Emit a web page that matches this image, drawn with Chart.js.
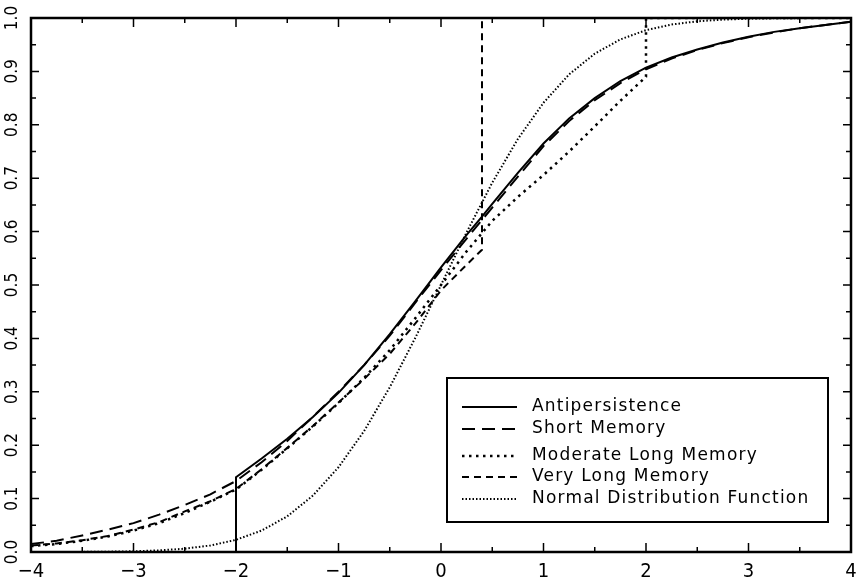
<!DOCTYPE html>
<html>
<head>
<meta charset="utf-8">
<script src="https://cdn.jsdelivr.net/npm/chart.js@4.4.0/dist/chart.umd.min.js"></script>
<style>
  html, body { margin: 0; padding: 0; background: #fff; }
  #wrap { width: 858px; height: 585px; }
</style>
</head>
<body>
<div id="wrap"><canvas id="myChart" width="858" height="585"></canvas></div>
<script>
// tick labels
const xTicks = [-4, -3, -2, -1, 0, 1, 2, 3, 4]
const yTicks = [0, 0.1, 0.2, 0.3, 0.4, 0.5, 0.6, 0.7, 0.8, 0.9, 1.0]

// Antipersistence (starts at -2 with a jump)
const antiX = [-2, -2, -1.75, -1.5, -1.25, -1, -0.75, -0.5, -0.25, 0, 0.25, 0.4, 0.5, 0.75, 1, 1.25, 1.5, 1.75, 2, 2.25, 2.5, 2.75, 3, 3.25, 3.5, 3.75, 4]
const antiY = [0, 0.14, 0.175, 0.212, 0.253, 0.298, 0.35, 0.408, 0.47, 0.533, 0.594, 0.628, 0.652, 0.71, 0.765, 0.812, 0.85, 0.882, 0.907, 0.926, 0.941, 0.954, 0.965, 0.974, 0.981, 0.987, 0.993]

// Short Memory
const shortX = [-4, -3.75, -3.5, -3.25, -3, -2.75, -2.5, -2.25, -2, -1.75, -1.5, -1.25, -1, -0.75, -0.5, -0.25, 0, 0.25, 0.5, 0.75, 1, 1.25, 1.5, 1.75, 2, 2.25, 2.5, 2.75, 3, 3.25, 3.5, 3.75, 4]
const shortY = [0.015, 0.021, 0.031, 0.042, 0.054, 0.07, 0.088, 0.108, 0.133, 0.168, 0.208, 0.253, 0.3, 0.35, 0.405, 0.467, 0.528, 0.587, 0.645, 0.703, 0.76, 0.807, 0.846, 0.878, 0.904, 0.924, 0.94, 0.953, 0.964, 0.973, 0.981, 0.987, 0.993]

// Moderate Long Memory (jumps to 1 at x = 2)
const modX = [-4, -3.75, -3.5, -3.25, -3, -2.75, -2.5, -2.25, -2, -1.75, -1.5, -1.25, -1, -0.75, -0.5, -0.25, 0, 0.25, 0.5, 0.75, 1, 1.25, 1.5, 1.75, 2, 2, 3, 4]
const modY = [0.011, 0.015, 0.021, 0.029, 0.04, 0.054, 0.073, 0.094, 0.117, 0.154, 0.194, 0.235, 0.279, 0.326, 0.378, 0.438, 0.5, 0.563, 0.62, 0.665, 0.706, 0.75, 0.797, 0.845, 0.89, 1.0, 1.0, 1.0]

// Very Long Memory (jumps to 1 at x = 0.4)
const vlongX = [-4, -3.75, -3.5, -3.25, -3, -2.75, -2.5, -2.25, -2, -1.75, -1.5, -1.25, -1, -0.75, -0.5, -0.25, 0, 0.25, 0.4, 0.4, 2, 4]
const vlongY = [0.012, 0.016, 0.022, 0.03, 0.042, 0.056, 0.076, 0.095, 0.118, 0.155, 0.195, 0.236, 0.28, 0.324, 0.371, 0.428, 0.49, 0.538, 0.566, 1.0, 1.0, 1.0]

// Normal Distribution Function
const normX = [-4, -3.75, -3.5, -3.25, -3, -2.75, -2.5, -2.25, -2, -1.75, -1.5, -1.25, -1, -0.75, -0.5, -0.25, 0, 0.25, 0.5, 0.75, 1, 1.25, 1.5, 1.75, 2, 2.25, 2.5, 2.75, 3, 3.25, 3.5, 3.75, 4]
const normY = [0.0, 0.0001, 0.0002, 0.0006, 0.0013, 0.003, 0.0062, 0.0122, 0.0228, 0.0401, 0.0668, 0.1056, 0.1587, 0.2266, 0.3085, 0.4013, 0.5, 0.5987, 0.6915, 0.7734, 0.8413, 0.8944, 0.9332, 0.9599, 0.9772, 0.9878, 0.9938, 0.997, 0.9987, 0.9994, 0.9998, 0.9999, 1.0]

const pts = (xs, ys) => xs.map((v, i) => ({ x: v, y: ys[i] }))

const series = [
  { label: 'Antipersistence', data: pts(antiX, antiY), dash: [], width: 2 },
  { label: 'Short Memory', data: pts(shortX, shortY), dash: [13, 7], width: 2 },
  { label: 'Moderate Long Memory', data: pts(modX, modY), dash: [2.5, 4.5], width: 2.5 },
  { label: 'Very Long Memory', data: pts(vlongX, vlongY), dash: [7, 5], width: 2 },
  { label: 'Normal Distribution Function', data: pts(normX, normY), dash: [1.5, 2], width: 2 }
]

const frame = {
  id: 'frame',
  afterDraw(chart) {
    const { ctx, chartArea: a, scales: { x, y } } = chart
    ctx.save()
    ctx.strokeStyle = '#000'
    ctx.fillStyle = '#000'

    // ticks pointing inward on all sides
    ctx.lineWidth = 1.5
    for (let i = -8; i <= 8; i++) {
      const px = x.getPixelForValue(i / 2)
      const len = i % 2 === 0 ? 9 : 5
      ctx.beginPath()
      ctx.moveTo(px, a.bottom); ctx.lineTo(px, a.bottom - len)
      ctx.moveTo(px, a.top); ctx.lineTo(px, a.top + len)
      ctx.stroke()
    }
    for (let i = 0; i <= 20; i++) {
      const py = y.getPixelForValue(i / 20)
      const len = i % 2 === 0 ? 8 : 5
      ctx.beginPath()
      ctx.moveTo(a.left, py); ctx.lineTo(a.left + len, py)
      ctx.moveTo(a.right, py); ctx.lineTo(a.right - len, py)
      ctx.stroke()
    }

    ctx.lineWidth = 2.5
    ctx.strokeRect(a.left, a.top, a.right - a.left, a.bottom - a.top)

    // x labels
    ctx.font = '20px "DejaVu Sans Condensed", "DejaVu Sans"'
    ctx.textAlign = 'center'
    ctx.textBaseline = 'middle'
    xTicks.forEach(v => {
      const txt = v < 0 ? '\u2212' + Math.abs(v) : String(v)
      ctx.fillText(txt, x.getPixelForValue(v), a.bottom + 20)
    })

    // y labels, rotated
    ctx.font = '17px "DejaVu Sans Condensed", "DejaVu Sans"'
    yTicks.forEach(v => {
      ctx.save()
      ctx.translate(a.left - 18, y.getPixelForValue(v))
      ctx.rotate(-Math.PI / 2)
      ctx.fillText(v.toFixed(1), 0, 0)
      ctx.restore()
    })

    // legend box
    const bx = a.left + 416, by = a.top + 360, bw = 381, bh = 144
    ctx.fillStyle = '#fff'
    ctx.fillRect(bx, by, bw, bh)
    ctx.lineWidth = 2
    ctx.strokeRect(bx, by, bw, bh)
    ctx.font = '17px "DejaVu Sans"'
    ctx.letterSpacing = '1.2px'
    ctx.textAlign = 'left'
    ctx.fillStyle = '#000'
    const rows = [29, 51, 78, 99, 121]
    series.forEach((s, i) => {
      const ly = by + rows[i]
      ctx.lineWidth = s.width
      ctx.setLineDash(s.dash)
      ctx.beginPath()
      ctx.moveTo(bx + 15, ly); ctx.lineTo(bx + 70, ly)
      ctx.stroke()
      ctx.setLineDash([])
      ctx.fillText(s.label, bx + 85, ly)
    })
    ctx.restore()
  }
}

new Chart(document.getElementById('myChart'), {
  type: 'line',
  data: {
    datasets: series.map(s => ({
      label: s.label,
      data: s.data,
      borderColor: '#000',
      borderWidth: s.width,
      borderDash: s.dash,
      pointRadius: 0,
      tension: 0,
      fill: false
    }))
  },
  options: {
    responsive: false,
    animation: false,
    layout: { padding: { left: 31, top: 18, right: 7, bottom: 33 } },
    plugins: { legend: { display: false }, tooltip: { enabled: false } },
    scales: {
      x: { type: 'linear', min: -4, max: 4, display: false },
      y: { type: 'linear', min: 0, max: 1, display: false }
    }
  },
  plugins: [frame]
})
</script>
</body>
</html>
